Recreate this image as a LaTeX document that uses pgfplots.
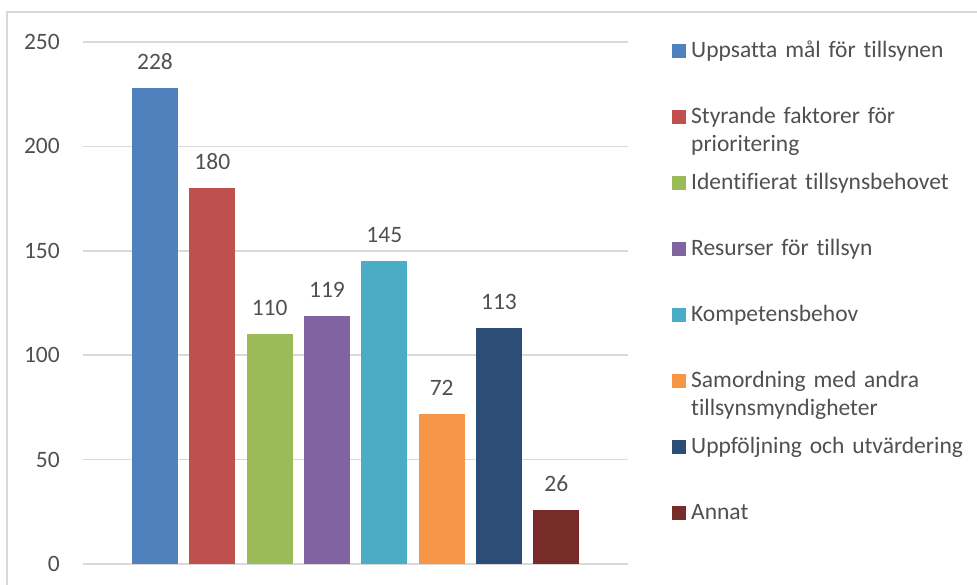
\documentclass[border=0pt]{standalone}
\usepackage{pgfplots}
\pgfplotsset{compat=1.18}
\usepackage{fontspec}
\setmainfont{Carlito}[Ligatures=CommonOff]
\definecolor{c1}{HTML}{4F81BD}
\definecolor{c2}{HTML}{C0504D}
\definecolor{c3}{HTML}{9BBB59}
\definecolor{c4}{HTML}{8064A2}
\definecolor{c5}{HTML}{4BACC6}
\definecolor{c6}{HTML}{F79646}
\definecolor{c7}{HTML}{2C4D75}
\definecolor{c8}{HTML}{772C2A}
\definecolor{txt}{HTML}{505050}
\definecolor{grd}{HTML}{D9D9D9}
\newcommand{\cf}{\fontsize{23.5}{28}\selectfont}
\begin{document}
\begin{tikzpicture}
\begin{axis}[
  at={(0pt,0pt)}, anchor=south west,
  scale only axis, width=545pt, height=522pt,
  xmin=-1.256, xmax=8.25, ymin=0, ymax=250,
  ybar, bar width=46pt, bar shift=0pt,
  axis line style={draw=none},
  major tick length=0pt,
  xtick=\empty,
  ytick={0,50,100,150,200,250},
  ymajorgrids, grid style={grd, line width=1.5pt},
  yticklabel style={font=\cf, text=txt, anchor=east, inner sep=0pt, xshift=-23pt},
  /pgf/number format/assume math mode=true,
  nodes near coords,
  every node near coord/.append style={font=\cf, text=txt, anchor=south, inner sep=0pt, yshift=18pt},
  legend image code/.code={\fill[#1] (0pt,0pt) rectangle (14pt,14pt);},
  legend style={at={(axis description cs:1.0807,1.00862)}, anchor=north west,
     draw=none, inner sep=0pt, row sep=0pt, column sep=5pt, font=\cf,
     nodes={inner sep=0pt, text=txt, text height=20pt, text depth=46pt, text width=280pt, align=left},
     cells={anchor=base west}},
]
\addplot[fill=c1, draw=none, bar shift=0pt] coordinates {(0,228)};
\addlegendentry{Uppsatta mål för tillsynen}
\addplot[fill=c2, draw=none, bar shift=0pt] coordinates {(1,180)};
\addlegendentry{Styrande faktorer för\\prioritering}
\addplot[fill=c3, draw=none, bar shift=0pt] coordinates {(2,110)};
\addlegendentry{Identifierat tillsynsbehovet}
\addplot[fill=c4, draw=none, bar shift=0pt] coordinates {(3,119)};
\addlegendentry{Resurser för tillsyn}
\addplot[fill=c5, draw=none, bar shift=0pt] coordinates {(4,145)};
\addlegendentry{Kompetensbehov}
\addplot[fill=c6, draw=none, bar shift=0pt] coordinates {(5,72)};
\addlegendentry{Samordning med andra\\tillsynsmyndigheter}
\addplot[fill=c7, draw=none, bar shift=0pt] coordinates {(6,113)};
\addlegendentry{Uppföljning och utvärdering}
\addplot[fill=c8, draw=none, bar shift=0pt] coordinates {(7,26)};
\addlegendentry{Annat}
\end{axis}
\draw[grd, line width=1.5pt] (-76pt,-30pt) -- (-76pt,552pt) -- (900pt,552pt);
\pgfresetboundingbox
\useasboundingbox (-83pt,-21pt) rectangle (894pt,564pt);
\end{tikzpicture}
\end{document}
